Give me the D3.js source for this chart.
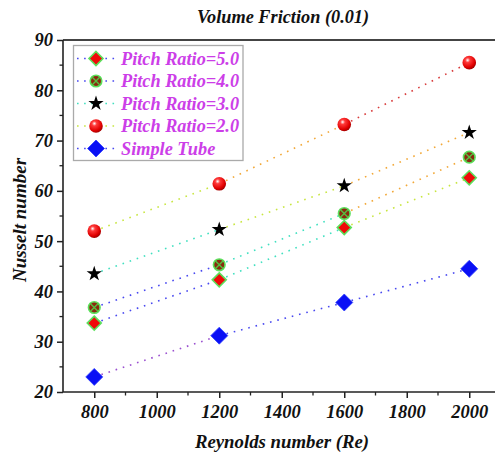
<!DOCTYPE html>
<html><head><meta charset="utf-8">
<script src="https://cdn.jsdelivr.net/npm/d3@7/dist/d3.min.js"></script>
<style>body{margin:0;background:#fff}svg{display:block}</style>
</head><body><svg id="c" width="495" height="453"></svg>
<script>
const reynolds = [800, 1200, 1600, 2000];
const pitch50 = [33.7, 42.3, 52.7, 62.6];
const pitch40 = [36.8, 45.3, 55.5, 66.7];
const pitch30 = [43.5, 52.3, 61.0, 71.6];
const pitch20 = [52.0, 61.4, 73.2, 85.5];
const simpleTube = [23.0, 31.2, 37.8, 44.5];
const seriesNames = ["Pitch Ratio=5.0", "Pitch Ratio=4.0", "Pitch Ratio=3.0", "Pitch Ratio=2.0", "Simple Tube"];
const xTicks = [800, 1000, 1200, 1400, 1600, 1800, 2000];
const yTicks = [20, 30, 40, 50, 60, 70, 80, 90];

const series = [
  {name: seriesNames[0], values: pitch50, marker: "diamondG"},
  {name: seriesNames[1], values: pitch40, marker: "circleX"},
  {name: seriesNames[2], values: pitch30, marker: "star"},
  {name: seriesNames[3], values: pitch20, marker: "sphere"},
  {name: seriesNames[4], values: simpleTube, marker: "diamondB"}
];

const svg = d3.select("#c");
const font = "'Liberation Serif','Times New Roman',serif";
const L = 63, R = 500.5, T = 40, B = 392;
const x = d3.scaleLinear().domain([700, 2100]).range([L, R]);
const y = d3.scaleLinear().domain([20, 90]).range([B, T]);

const segColor = d3.scaleThreshold().domain([30, 45, 55, 59.5, 76])
  .range(["#9a4fd0", "#4848f0", "#40e0c0", "#c8e640", "#f2a838", "#d83a3a"]);

const defs = svg.append("defs");
const rg = defs.append("radialGradient").attr("id", "sph").attr("cx", "0.38").attr("cy", "0.32").attr("r", "0.7");
rg.append("stop").attr("offset", "0").attr("stop-color", "#ffffff");
rg.append("stop").attr("offset", "0.25").attr("stop-color", "#ff3a3a");
rg.append("stop").attr("offset", "0.75").attr("stop-color", "#e00000");
rg.append("stop").attr("offset", "1").attr("stop-color", "#a00000");

svg.append("line").attr("x1", L).attr("x2", 495).attr("y1", T).attr("y2", T)
  .attr("stroke", "#444").attr("stroke-width", 2);

const xAxis = d3.axisBottom(x).tickValues(xTicks).tickSize(6).tickPadding(7).tickFormat(d3.format("d"));
const gx = svg.append("g").attr("transform", `translate(0,${B})`).call(xAxis);
const yAxis = d3.axisLeft(y).tickValues(yTicks).tickSize(6).tickPadding(4);
const gy = svg.append("g").attr("transform", `translate(${L},0)`).call(yAxis);
[gx, gy].forEach(g => {
  g.select(".domain").attr("stroke", "#222").attr("stroke-width", 1.6);
  g.selectAll(".tick line").attr("stroke", "#222").attr("stroke-width", 1.5);
  g.selectAll(".tick text").attr("font-family", font).attr("font-weight", "bold")
    .attr("font-style", "italic").attr("font-size", 18.5).attr("fill", "#111");
});
gx.select(".domain").attr("d", `M${L},0H495`);
gy.select(".domain").attr("d", `M0,${B}V${T}`);
svg.append("g").selectAll("line").data(d3.range(900, 2100, 200)).join("line")
  .attr("x1", d => x(d)).attr("x2", d => x(d)).attr("y1", B).attr("y2", B + 3.5)
  .attr("stroke", "#222").attr("stroke-width", 1.3);
svg.append("g").selectAll("line").data(d3.range(25, 90, 10)).join("line")
  .attr("x1", L - 3.5).attr("x2", L).attr("y1", d => y(d)).attr("y2", d => y(d))
  .attr("stroke", "#222").attr("stroke-width", 1.3);

svg.append("text").attr("x", 283).attr("y", 23).attr("text-anchor", "middle")
  .attr("font-family", font).attr("font-weight", "bold").attr("font-style", "italic")
  .attr("font-size", 18.3).attr("fill", "#111").text("Volume Friction (0.01)");
svg.append("text").attr("x", 282).attr("y", 448).attr("text-anchor", "middle")
  .attr("font-family", font).attr("font-weight", "bold").attr("font-style", "italic")
  .attr("font-size", 18.8).attr("fill", "#111").text("Reynolds number (Re)");
svg.append("text").attr("transform", `translate(26,220) rotate(-90)`).attr("text-anchor", "middle")
  .attr("font-family", font).attr("font-weight", "bold").attr("font-style", "italic")
  .attr("font-size", 19).attr("fill", "#111").text("Nusselt number");

const dash = "1.6,5.9";
series.forEach(s => {
  const pts = reynolds.map((r, i) => [r, s.values[i]]);
  for (let i = 0; i < pts.length - 1; i++) {
    const a = pts[i], b = pts[i + 1];
    svg.append("line").attr("x1", x(a[0])).attr("y1", y(a[1])).attr("x2", x(b[0])).attr("y2", y(b[1]))
      .attr("stroke", segColor((a[1] + b[1]) / 2)).attr("stroke-width", 1.6)
      .attr("stroke-dasharray", dash);
  }
});

function drawMarker(g, type, cx, cy) {
  const m = g.append("g").attr("transform", `translate(${cx},${cy})`);
  if (type === "diamondB") {
    const r = 8.5;
    m.append("path").attr("d", `M0,${-r}L${r},0L0,${r}L${-r},0Z`).attr("fill", "#0a10f5")
      .attr("stroke", "#3040ff").attr("stroke-width", 0.8);
  } else if (type === "diamondG") {
    const r = 7;
    m.append("path").attr("d", `M0,${-r}L${r},0L0,${r}L${-r},0Z`).attr("fill", "#f00a0a")
      .attr("stroke", "#5ce05c").attr("stroke-width", 1.6);
  } else if (type === "circleX") {
    const r = 5.8;
    m.append("circle").attr("r", r).attr("fill", "#8a2a10").attr("stroke", "#5ce05c").attr("stroke-width", 1.6);
    const k = r * 0.68;
    m.append("path").attr("d", `M${-k},${-k}L${k},${k}M${-k},${k}L${k},${-k}`)
      .attr("stroke", "#55c040").attr("stroke-width", 1.4);
  } else if (type === "star") {
    m.append("path").attr("d", d3.symbol(d3.symbolStar, 72)()).attr("fill", "#000");
  } else if (type === "sphere") {
    m.append("circle").attr("r", 6.8).attr("fill", "url(#sph)");
  }
}

series.forEach(s => {
  const g = svg.append("g");
  reynolds.forEach((r, i) => drawMarker(g, s.marker, x(r), y(s.values[i])));
});

const lg = svg.append("g");
lg.append("rect").attr("x", 73.5).attr("y", 45.5).attr("width", 169.5).attr("height", 115)
  .attr("fill", "#fff").attr("stroke", "#aaa").attr("stroke-width", 1.3);
series.forEach((s, i) => {
  const ry = 58.5 + i * 22.5;
  const mid = (s.values[0] + s.values[1]) / 2;
  lg.append("line").attr("x1", 77).attr("x2", 115).attr("y1", ry).attr("y2", ry)
    .attr("stroke", segColor(mid < 30 ? 35 : mid))
    .attr("stroke-width", 1.6).attr("stroke-dasharray", "1.6,5.5");
  drawMarker(lg, s.marker, 96, ry);
  lg.append("text").attr("x", 121).attr("y", ry + 6)
    .attr("font-family", font).attr("font-weight", "bold").attr("font-style", "italic")
    .attr("font-size", 18.3).attr("fill", "#cc3ee8").text(s.name);
});
</script></body></html>
